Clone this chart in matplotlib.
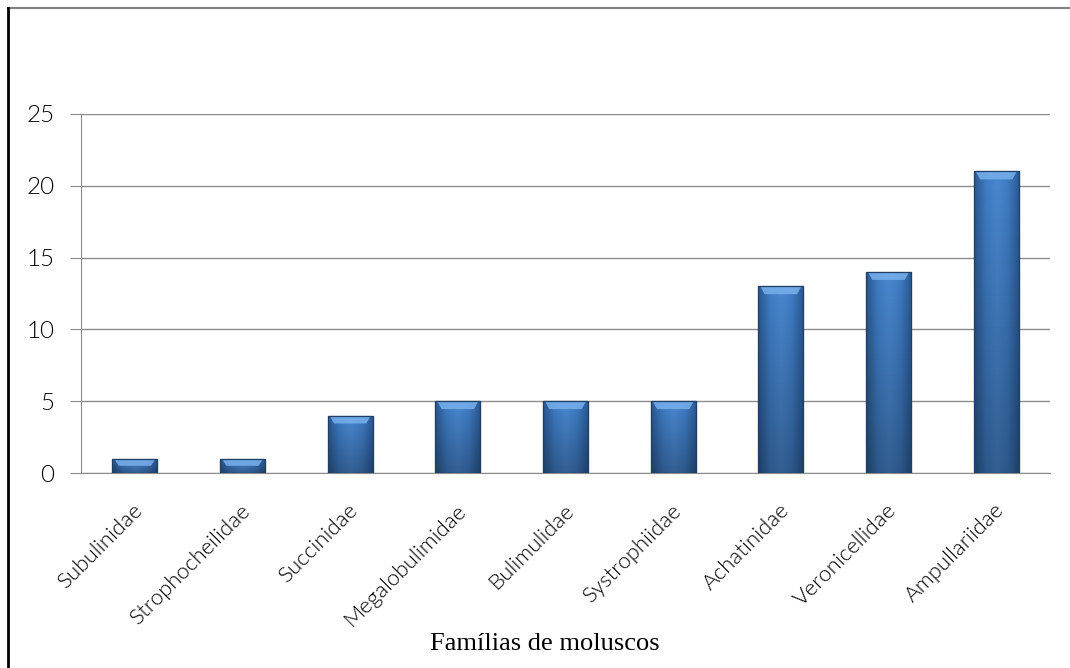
import numpy as np
import matplotlib
matplotlib.use("Agg")
import matplotlib.pyplot as plt
import matplotlib.transforms as mtransforms
from matplotlib.colors import LinearSegmentedColormap
from matplotlib.lines import Line2D

families = ["Subulinidae", "Strophocheilidae", "Succinidae", "Megalobulimidae",
            "Bulimulidae", "Systrophiidae", "Achatinidae", "Veronicellidae",
            "Ampullariidae"]
counts = [1, 1, 4, 5, 5, 5, 13, 14, 21]
yticks = [0, 5, 10, 15, 20, 25]

W, H = 1070, 668
fig = plt.figure(figsize=(W / 100, H / 100), dpi=100)
ax = fig.add_axes([81 / W, 1 - 473 / H, (1050 - 81) / W, (473 - 114) / H])

# frame round the whole chart (only top and left are visible)
fig.add_artist(Line2D([8 / W, 1], [1 - 8 / H, 1 - 8 / H], color="#808080", lw=1.5))
fig.add_artist(Line2D([8 / W, 8 / W], [0, 1 - 8 / H], color="black", lw=2))

x = np.arange(len(families))
bars = ax.bar(x, counts, width=0.42, color="#3a72b8", edgecolor="#1f3f66",
              linewidth=0.8, zorder=3)

# Excel style shading on the bars
side = LinearSegmentedColormap.from_list("side", ["#2b5990", "#3f7cc4", "#4a88d0", "#3f7cc4", "#2b5990"])
grad = np.linspace(0, 1, 64).reshape(1, -1)
for b in bars:
    x0, w, h = b.get_x(), b.get_width(), b.get_height()
    im = ax.imshow(grad, cmap=side, extent=(x0, x0 + w, 0, h), aspect="auto",
                   zorder=3.5, interpolation="bicubic")
    im.set_clip_path(b)
    shade = np.zeros((64, 1, 4))
    shade[..., 3] = 0.3 * np.linspace(0, 1, 64).reshape(-1, 1)
    im2 = ax.imshow(shade, extent=(x0, x0 + w, 0, h), aspect="auto",
                    zorder=3.6, origin="upper")
    im2.set_clip_path(b)
    cap = min(0.55, h * 0.5)
    ax.fill([x0 + 0.02, x0 + w - 0.02, x0 + w - 0.06, x0 + 0.06],
            [h - 0.02, h - 0.02, h - cap, h - cap],
            color="#78b0ec", alpha=0.85, zorder=3.7, lw=0)
    ax.add_patch(plt.Rectangle((x0, 0), w, h, fill=False, ec="#1f3f66", lw=0.9, zorder=3.8))

ax.set_xlim(-0.5, len(families) - 0.5)
ax.set_ylim(0, 25)
ax.set_yticks(yticks)
ax.grid(axis="y", color="#8c8c8c", lw=1, zorder=0)
for s in ["top", "right"]:
    ax.spines[s].set_visible(False)
ax.spines["left"].set_color("#8c8c8c")
ax.spines["bottom"].set_color("#8c8c8c")
ax.tick_params(axis="y", length=8, color="#8c8c8c", labelsize=17.5, pad=11)
for lab in ax.get_yticklabels():
    lab.set_fontfamily("Lato")
    lab.set_fontweight(300)

# rotated category labels
ax.set_xticks(x)
ax.set_xticklabels([])
ax.tick_params(axis="x", length=0)
offset = mtransforms.ScaledTranslation(5 / 100, -34 / 100, fig.dpi_scale_trans)
for xi, name in zip(x, families):
    ax.text(xi, 0, name, rotation=45, ha="right", va="center",
            rotation_mode="anchor", fontsize=16, fontfamily="Lato",
            fontweight=300, transform=ax.get_xaxis_transform() + offset)

fig.text(545 / W, 1 - 644 / H, "Famílias de moluscos", ha="center", va="center",
         fontsize=19, fontfamily="Liberation Serif")

fig.savefig("out.png", dpi=100)
